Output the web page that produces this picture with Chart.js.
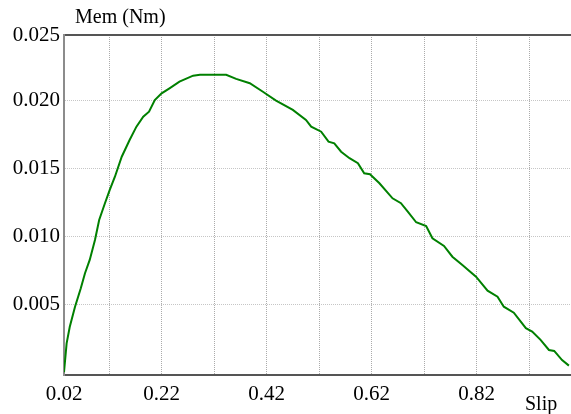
<!DOCTYPE html>
<html lang="en">
<head>
    <meta charset="UTF-8">
    <title>Mem vs Slip</title>
    <script src="https://cdn.jsdelivr.net/npm/chart.js"></script>
    <style>
        html, body {
            margin: 0;
            padding: 0;
            background: white;
        }
        #wrap {
            width: 571px;
            height: 414px;
        }
    </style>
</head>
<body>
    <div id="wrap"><canvas id="memChart"></canvas></div>

    <script>
        // torque curve
        const slip = [0.034, 0.039, 0.045, 0.055, 0.066, 0.074, 0.083, 0.093, 0.101, 0.112,
            0.121, 0.131, 0.144, 0.159, 0.172, 0.185, 0.196, 0.207, 0.220, 0.235,
            0.254, 0.280, 0.293, 0.343, 0.362, 0.388, 0.413, 0.438, 0.470, 0.495,
            0.505, 0.524, 0.538, 0.549, 0.562, 0.578, 0.594, 0.606, 0.617, 0.635,
            0.660, 0.676, 0.689, 0.705, 0.724, 0.736, 0.758, 0.774, 0.793, 0.819,
            0.841, 0.860, 0.872, 0.891, 0.914, 0.926, 0.942, 0.958, 0.968, 0.983, 0.996];
        const mem = [0.0000, 0.00213, 0.00335, 0.00482, 0.00618, 0.00728, 0.00826, 0.00973, 0.0112, 0.01243,
            0.0134, 0.01438, 0.01585, 0.01708, 0.01806, 0.01879, 0.01916, 0.02002, 0.02051, 0.02088,
            0.02137, 0.02181, 0.02188, 0.02188, 0.02157, 0.02125, 0.02063, 0.01997, 0.01929, 0.01855,
            0.01806, 0.01769, 0.01696, 0.01684, 0.01622, 0.01574, 0.01537, 0.01463, 0.01456, 0.0139,
            0.01279, 0.01243, 0.01181, 0.01103, 0.01076, 0.00985, 0.00929, 0.0085, 0.00789, 0.00703,
            0.006, 0.00556, 0.00482, 0.00438, 0.00324, 0.00299, 0.00238, 0.00164, 0.00157, 0.0009, 0.00049];

        const xMin = 0.034, xMax = 1.0;
        const yMin = -0.0002, yMax = 0.0248;
        const xTickValues = [xMin, 0.12, 0.22, 0.32, 0.42, 0.52, 0.62, 0.72, 0.82, 0.92];
        const xTickLabels = ['0.02', '', '0.22', '', '0.42', '', '0.62', '', '0.82', ''];
        const yTickValues = [0.005, 0.010, 0.015, 0.020, yMax];
        const yTickLabels = ['0.005', '0.010', '0.015', '0.020', '0.025'];

        const serif = "'Liberation Serif', 'DejaVu Serif', serif";

        // axis captions sit outside the normal title spots
        const captions = {
            id: 'captions',
            afterDraw(chart) {
                const ctx = chart.ctx;
                ctx.save();
                ctx.fillStyle = '#000';
                ctx.font = '20px ' + serif;
                ctx.textBaseline = 'alphabetic';
                ctx.textAlign = 'left';
                ctx.fillText('Mem (Nm)', 75, 23);
                ctx.fillText('Slip', 525, 410);
                ctx.restore();
            }
        };

        new Chart(document.getElementById('memChart'), {
            type: 'line',
            data: {
                datasets: [{
                    data: slip.map((s, i) => ({ x: s, y: mem[i] })),
                    borderColor: '#008000',
                    borderWidth: 2,
                    pointRadius: 0,
                    tension: 0,
                    fill: false
                }]
            },
            options: {
                responsive: true,
                maintainAspectRatio: false,
                animation: false,
                layout: { padding: { top: 35, right: 0, left: 0, bottom: 0 } },
                plugins: {
                    legend: { display: false },
                    tooltip: { enabled: false }
                },
                scales: {
                    x: {
                        type: 'linear',
                        min: xMin,
                        max: xMax,
                        afterBuildTicks: scale => {
                            scale.ticks = xTickValues.map(v => ({ value: v }));
                        },
                        afterFit: scale => { scale.height = 39; },
                        ticks: {
                            color: '#000',
                            padding: 7,
                            maxRotation: 0,
                            autoSkip: false,
                            font: { family: serif, size: 21 },
                            callback: (v, i) => xTickLabels[i]
                        },
                        grid: {
                            color: '#ababab',
                            lineWidth: 1,
                            drawTicks: false
                        },
                        border: { display: true, color: '#555', width: 2, dash: [1, 1] }
                    },
                    y: {
                        min: yMin,
                        max: yMax,
                        afterBuildTicks: scale => {
                            scale.ticks = yTickValues.map(v => ({ value: v }));
                        },
                        afterFit: scale => { scale.width = 64; },
                        ticks: {
                            color: '#000',
                            padding: 4,
                            autoSkip: false,
                            font: { family: serif, size: 21 },
                            callback: (v, i) => yTickLabels[i]
                        },
                        grid: {
                            color: c => (c.tick && c.tick.value === yMax) ? '#555' : '#c6c6c6',
                            lineWidth: c => (c.tick && c.tick.value === yMax) ? 2 : 1,
                            drawTicks: false
                        },
                        border: {
                            display: true,
                            color: '#8c8c8c',
                            width: 2,
                            dash: c => (c.tick && c.tick.value === yMax) ? [] : [1, 1]
                        }
                    }
                }
            },
            plugins: [captions]
        });
    </script>
</body>
</html>
